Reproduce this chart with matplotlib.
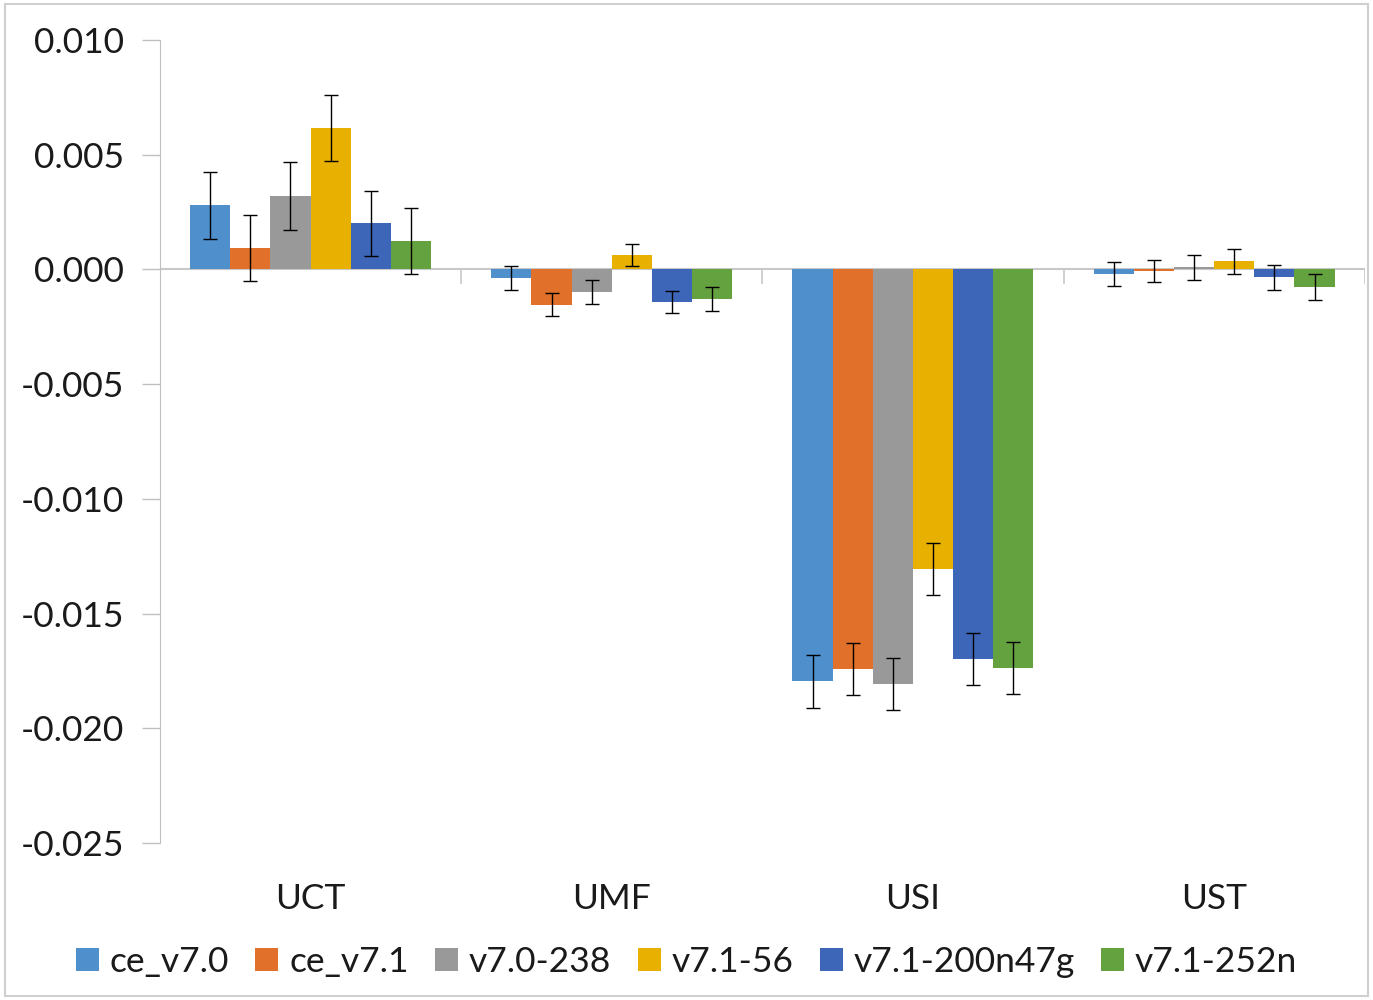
import numpy as np
import matplotlib.pyplot as plt

plt.rcParams['font.family'] = ['Lato', 'DejaVu Sans']

# categories and series
categories = ["UCT", "UMF", "USI", "UST"]
series = ["ce_v7.0", "ce_v7.1", "v7.0-238", "v7.1-56", "v7.1-200n47g", "v7.1-252n"]
colors = ["#4e8fcc", "#e0702a", "#999999", "#e8b000", "#3e66b8", "#63a23f"]

values = {
    "ce_v7.0":      [0.00279, -0.00037, -0.01796, -0.00019],
    "ce_v7.1":      [0.00093, -0.00153, -0.01742, -0.00006],
    "v7.0-238":     [0.00321, -0.00098, -0.01806, 0.00009],
    "v7.1-56":      [0.00616, 0.00065, -0.01306, 0.00035],
    "v7.1-200n47g": [0.00202, -0.00143, -0.01698, -0.00035],
    "v7.1-252n":    [0.00122, -0.00129, -0.01737, -0.00078],
}
errors = {
    "ce_v7.0":      [0.00145, 0.00052, 0.00114, 0.00053],
    "ce_v7.1":      [0.00145, 0.00049, 0.00113, 0.00049],
    "v7.0-238":     [0.00147, 0.00052, 0.00114, 0.00053],
    "v7.1-56":      [0.00145, 0.00048, 0.00114, 0.00054],
    "v7.1-200n47g": [0.00142, 0.00049, 0.00114, 0.00054],
    "v7.1-252n":    [0.00144, 0.00051, 0.00114, 0.00056],
}

fig = plt.figure(figsize=(13.73, 10), dpi=100)
ax = fig.add_axes([0.1165, 0.157, 0.8775, 0.803])

x = np.arange(len(categories))
w = 0.8 / len(series)
for i, (s, c) in enumerate(zip(series, colors)):
    pos = x - 0.4 + w * (i + 0.5)
    ax.bar(pos, values[s], w, color=c, label=s, zorder=2)
    ax.errorbar(pos, values[s], yerr=errors[s], fmt='none', ecolor='black',
                elinewidth=1, capsize=5, capthick=1, zorder=3)

ax.set_xlim(-0.5, len(categories) - 0.5)
ax.set_ylim(-0.025, 0.010)
yt = np.arange(-0.025, 0.0101, 0.005)
ax.set_yticks(yt)
ax.set_yticklabels([f"{v:.3f}" for v in yt])
ax.tick_params(axis='y', labelsize=25.5, length=13, width=1, color='#bfbfbf',
               direction='out', pad=13, labelcolor='#1a1a1a')

for sp in ['top', 'right', 'bottom']:
    ax.spines[sp].set_visible(False)
ax.spines['left'].set_color('#bfbfbf')

# zero line with category-boundary ticks
ax.axhline(0, color='#c8c8c8', lw=1.5, zorder=1)
for b in np.arange(0.5, len(categories), 1.0):
    ax.plot([b, b], [0, -0.0006], color='#c8c8c8', lw=1.2, zorder=1)

ax.set_xticks(x)
ax.set_xticklabels([])
ax.tick_params(axis='x', length=0)
for xi, cat in zip(x, categories):
    ax.text(xi, -0.02745, cat, ha='center', va='center', fontsize=25.5,
            color='#1a1a1a', clip_on=False)

ax.legend(loc='center', bbox_to_anchor=(0.5, 0.038), bbox_transform=fig.transFigure,
          ncol=6, frameon=False, fontsize=25.5, handlelength=0.65, handleheight=0.65,
          handletextpad=0.3, columnspacing=0.75, labelcolor='#1a1a1a')

# outer border
fig.patches.append(plt.Rectangle((0.004, 0.004), 0.992, 0.992, transform=fig.transFigure,
                                 fill=False, edgecolor='#d0d0d0', lw=1.5))

plt.savefig("out.png", dpi=100)
